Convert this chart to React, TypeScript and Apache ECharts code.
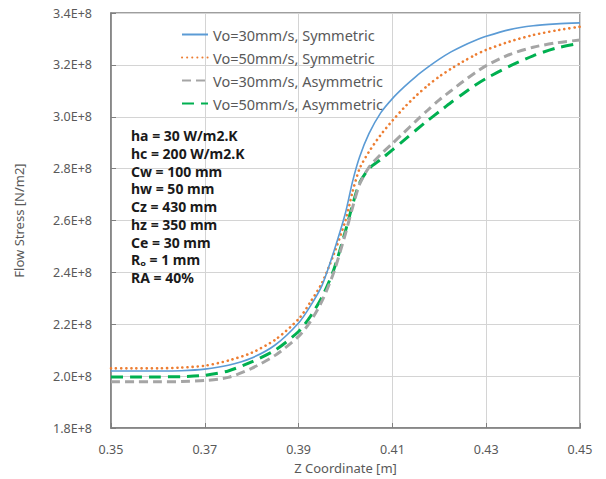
import React, { useEffect, useRef } from "react";
import * as echarts from "echarts";

const zCoords = [0.35, 0.355, 0.36, 0.365, 0.37, 0.375, 0.38, 0.385, 0.39, 0.3925, 0.395, 0.3975, 0.4, 0.4015, 0.403, 0.405, 0.4075, 0.41, 0.4125, 0.415, 0.4175, 0.42, 0.4225, 0.425, 0.4275, 0.43, 0.435, 0.44, 0.445, 0.45];

// values in units of 1E+8 N/m2
const vo30Sym = [2.02, 2.02, 2.02, 2.021, 2.027, 2.042, 2.07, 2.12, 2.205, 2.27, 2.35, 2.48, 2.63, 2.75, 2.845, 2.935, 3.015, 3.07, 3.115, 3.155, 3.19, 3.222, 3.25, 3.273, 3.293, 3.31, 3.336, 3.351, 3.358, 3.362];
const vo50Sym = [2.03, 2.03, 2.03, 2.033, 2.04, 2.06, 2.09, 2.14, 2.22, 2.285, 2.36, 2.47, 2.6, 2.71, 2.8, 2.865, 2.93, 2.985, 3.035, 3.08, 3.12, 3.155, 3.185, 3.212, 3.237, 3.258, 3.29, 3.315, 3.333, 3.347];
const vo30Asym = [1.978, 1.978, 1.978, 1.979, 1.983, 1.995, 2.03, 2.08, 2.153, 2.21, 2.29, 2.4, 2.55, 2.65, 2.74, 2.805, 2.855, 2.897, 2.94, 2.983, 3.025, 3.065, 3.1, 3.135, 3.168, 3.197, 3.24, 3.268, 3.285, 3.296];
const vo50Asym = [1.997, 1.997, 1.997, 1.998, 2.003, 2.02, 2.055, 2.1, 2.172, 2.23, 2.305, 2.41, 2.56, 2.66, 2.745, 2.8, 2.835, 2.872, 2.91, 2.948, 2.985, 3.02, 3.055, 3.088, 3.12, 3.148, 3.195, 3.235, 3.265, 3.283];

const seriesNames = ["Vo=30mm/s, Symmetric", "Vo=50mm/s, Symmetric", "Vo=30mm/s, Asymmetric", "Vo=50mm/s, Asymmetric"];

const annotationLines = ["ha = 30 W/m2.K", "hc = 200 W/m2.K", "Cw = 100 mm", "hw = 50 mm", "Cz = 430 mm", "hz = 350 mm", "Ce = 30 mm", "Rₒ = 1 mm", "RA = 40%"];

const FONT = "'Noto Sans', sans-serif";

export default function App() {
  const ref = useRef<HTMLDivElement>(null);
  useEffect(() => {
    if (!ref.current) return;
    const chart = echarts.init(ref.current, undefined, { renderer: "svg" });
    const toPairs = (vals: number[]) => zCoords.map((z, i) => [z, vals[i] * 1e8]);
    const styles = [
      { color: "#5B9BD5", width: 1.6, type: "solid" as any, cap: "butt" },
      { color: "#ED7D31", width: 2.6, type: [0.1, 5] as any, cap: "round" },
      { color: "#A5A5A5", width: 3, type: [9, 5] as any, cap: "butt" },
      { color: "#00B050", width: 3, type: [12, 7] as any, cap: "butt" },
    ];
    const data = [vo30Sym, vo50Sym, vo30Asym, vo50Asym];
    chart.setOption({
      animation: false,
      textStyle: { fontFamily: FONT },
      grid: { left: 111, right: 26, top: 13, bottom: 51, show: true, borderColor: "#7F7F7F", borderWidth: 1.5, backgroundColor: "transparent" },
      legend: {
        orient: "vertical",
        left: 181,
        top: 27,
        padding: 0,
        itemWidth: 26,
        itemHeight: 14,
        itemGap: 8,
        itemStyle: { opacity: 0, borderWidth: 0 },
        textStyle: { fontFamily: FONT, fontSize: 14.5, color: "#595959" },
        data: seriesNames,
      },
      xAxis: {
        type: "value",
        min: 0.35,
        max: 0.45,
        interval: 0.02,
        name: "Z Coordinate [m]",
        nameLocation: "middle",
        nameGap: 33,
        nameTextStyle: { fontFamily: FONT, fontSize: 13, color: "#595959" },
        axisLine: { show: true, lineStyle: { color: "#7F7F7F", width: 1.5 } },
        axisTick: { show: true, inside: true, length: 5, lineStyle: { color: "#7F7F7F" } },
        axisLabel: { formatter: (v: number) => v.toFixed(2), margin: 15, fontSize: 12.5, color: "#595959", fontFamily: FONT },
        splitLine: { show: true, lineStyle: { color: "#D4D4D4", width: 1 } },
      },
      yAxis: {
        type: "value",
        min: 1.8e8,
        max: 3.4e8,
        interval: 0.2e8,
        name: "Flow Stress [N/m2]",
        nameLocation: "middle",
        nameGap: 86,
        nameTextStyle: { fontFamily: FONT, fontSize: 13, color: "#595959" },
        axisLine: { show: true, lineStyle: { color: "#7F7F7F", width: 1.5 } },
        axisTick: { show: true, inside: true, length: 5, lineStyle: { color: "#7F7F7F" } },
        axisLabel: { formatter: (v: number) => (v / 1e8).toFixed(1) + "E+8", margin: 19, fontSize: 12.5, color: "#595959", fontFamily: FONT },
        splitLine: { show: true, lineStyle: { color: "#D4D4D4", width: 1 } },
      },
      series: seriesNames.map((name, i) => ({
        name,
        type: "line",
        data: toPairs(data[i]),
        smooth: 0.25,
        showSymbol: false,
        symbol: "none",
        lineStyle: { color: styles[i].color, width: styles[i].width, type: styles[i].type, cap: styles[i].cap },
        itemStyle: { color: styles[i].color },
        z: 10 - i,
      })),
      graphic: [
        {
          type: "text",
          left: 131,
          top: 127,
          z: 100,
          style: {
            text: annotationLines.join("\n"),
            fontFamily: FONT,
            fontSize: 14,
            fontWeight: "bold",
            fill: "#1a1a1a",
            lineHeight: 17.7,
          } as any,
        },
      ],
    });
    return () => chart.dispose();
  }, []);
  return <div ref={ref} style={{ position: "absolute", left: 0, top: 0, width: 606, height: 479 }} />;
}
